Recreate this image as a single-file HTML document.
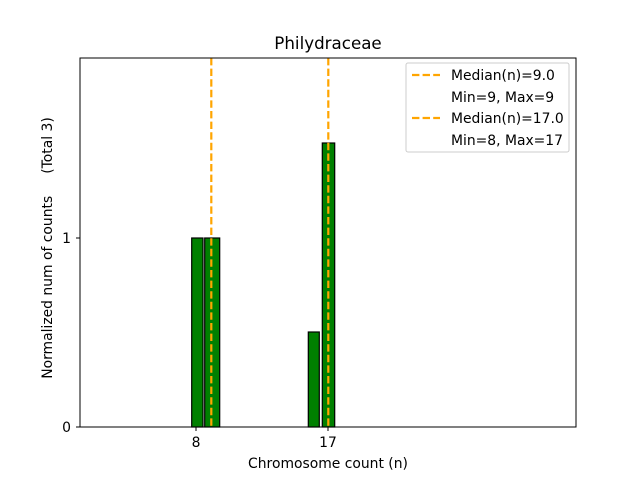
<!DOCTYPE html>
<html><head><style>body{margin:0;background:#fff}svg{display:block}text{font-family:"DejaVu Sans","Liberation Sans",sans-serif;fill:#000}</style></head><body>
<svg width="640" height="480" xmlns="http://www.w3.org/2000/svg">
<rect width="640" height="480" fill="#fff"/>
<line x1="80" y1="427" x2="262" y2="427" stroke="#aaa" stroke-width="1"/>
<g fill="#008000" stroke="#000" stroke-width="1.2">
<rect x="191.7" y="238" width="11.3" height="189"/>
<rect x="204.7" y="238" width="15" height="189"/>
<rect x="308.3" y="332" width="11" height="95"/>
<rect x="322.3" y="143" width="12.4" height="284"/>
</g>
<g stroke="#ffa500" stroke-width="2.2" stroke-dasharray="7.4,3.2">
<line x1="211.3" y1="58" x2="211.3" y2="427"/>
<line x1="328.3" y1="58" x2="328.3" y2="427"/>
</g>
<rect x="80" y="58" width="496" height="369" fill="none" stroke="#000" stroke-width="1"/>
<g stroke="#000"><line x1="196" y1="427" x2="196" y2="431"/><line x1="328" y1="427" x2="328" y2="431"/><line x1="76" y1="427" x2="80" y2="427"/><line x1="76" y1="238" x2="80" y2="238"/></g>
<g font-size="13.9">
<text x="196" y="447" text-anchor="middle">8</text>
<text x="328" y="447" text-anchor="middle">17</text>
<text x="71" y="432" text-anchor="end">0</text>
<text x="71" y="243" text-anchor="end">1</text>
<text x="328" y="468" text-anchor="middle">Chromosome count (n)</text>
<text transform="translate(52,248) rotate(-90)" text-anchor="middle" xml:space="preserve">Normalized num of counts     (Total 3)</text>
</g>
<text x="328" y="49" font-size="16.7" text-anchor="middle">Philydraceae</text>
<rect x="406" y="63" width="163" height="89" rx="2" fill="#fff" stroke="#ccc"/>
<g stroke="#ffa500" stroke-width="2.2" stroke-dasharray="7.4,3.2"><line x1="412" y1="75" x2="440" y2="75"/><line x1="412" y1="118" x2="440" y2="118"/></g>
<g font-size="13.9">
<text x="451" y="80">Median(n)=9.0</text>
<text x="451" y="102">Min=9, Max=9</text>
<text x="451" y="123">Median(n)=17.0</text>
<text x="451" y="145">Min=8, Max=17</text>
</g>
</svg>
</body></html>
